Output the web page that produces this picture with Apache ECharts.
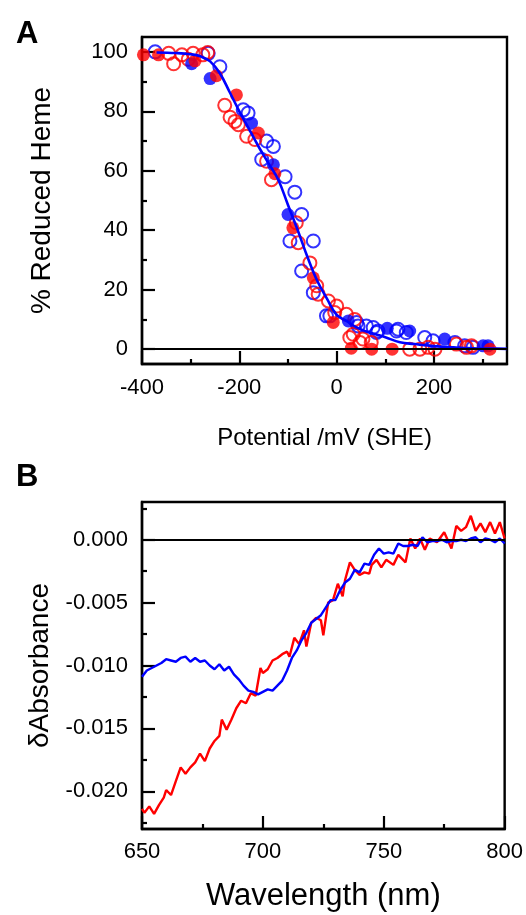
<!DOCTYPE html>
<html>
<head>
<meta charset="utf-8">
<script src="https://cdn.jsdelivr.net/npm/echarts@6/dist/echarts.min.js"></script>
<style>html,body{margin:0;padding:0;background:#fff;}#c{width:526px;height:915px;}</style>
</head>
<body>
<div id="c"></div>
<script>
// ---------- Panel A data (potential mV, % reduced heme) ----------
const redFilled = [[-397,99],[-366,99],[-291,97],[-247,92],[-206,85.5],[-161,72.7],[-127,59],[-90,40.8],[-48,24],[-7,9],[30,0.3],[72,0],[114,0],[315,0]];
const redOpen = [[-345,99.5],[-335,96],[-318,99],[-305,97.5],[-295,99.5],[-275,99],[-265,99.8],[-230,82],[-219,78],[-209,76.6],[-202,75.5],[-185,71.6],[-168,70.5],[-144,63.2],[-134,57],[-83,42.5],[-79,35.8],[-55,29],[-41,21.3],[-38,18.5],[-17,16.2],[0,14.5],[-4,12.3],[20,11.7],[37,10],[27,3.9],[34,5],[48,2.2],[54,3.4],[71,2.2],[150,0],[171,0],[188,0.6],[202,0],[246,1.7],[267,0.6],[277,1.1]];
const blueFilled = [[-298,96],[-260,91],[-175,76],[-130,62],[-100,45.3],[24,9.5],[104,7],[150,6.1],[222,3.4],[301,1.1],[311,1.1]];
const blueOpen = [[-373,100],[-264,99.5],[-240,95],[-192,80.5],[-182,79.4],[-144,70],[-130,68.2],[-154,63.8],[-106,58],[-86,52.8],[-72,45.3],[-96,36.4],[-48,36.4],[-72,26.3],[-48,19],[-21,11.2],[-14,11.2],[41,9],[44,7.8],[61,7.8],[75,7.3],[82,5.6],[85,6.1],[123,6.1],[126,6.7],[143,5.6],[181,3.9],[198,2.8],[243,2.2],[263,1.1],[280,0.6]];
const fitX = [-370,-330,-300,-280,-260,-240,-220,-200,-180,-160,-140,-120,-100,-80,-60,-40,-20,0,20,40,60,80,100,130,160,200,240,280,320,350];
const fitY = [99.8,99.6,99.2,98.5,96.8,92.8,86.5,80,74,68,62.5,57,48.5,40,31,23,17,11.5,9.5,7.4,6,5,4,2.3,1.7,1,0.6,0.3,0.2,0.1];
const aXTicks = [-400,-200,0,200];
const aXMinor = [-300,-100,100,300];
const aYTicks = [0,20,40,60,80,100];
const aYMinor = [10,30,50,70,90];

// ---------- Panel B data (wavelength nm, dAbsorbance) ----------
const blueWl = [650,652,654,656,658,660,662,664,666,668,670,672,674,676,678,680,682,684,686,688,690,692,694,696,698,700,702,704,706,708,710,712,714,716,718,720,722,724,726,728,730,732,734,736,738,740,742,744,746,748,750,752,754,756,758,760,762,764,766,768,770,772,774,776,778,780,782,784,786,788,790,792,794,796,798,800];
const blueAbs = [-0.0109,-0.0104,-0.0102,-0.0100,-0.0098,-0.0095,-0.0096,-0.0097,-0.0094,-0.0093,-0.0097,-0.0094,-0.0097,-0.0096,-0.0100,-0.0103,-0.0099,-0.0104,-0.0101,-0.0107,-0.0111,-0.0116,-0.0120,-0.0121,-0.0123,-0.0121,-0.0119,-0.0120,-0.0116,-0.0112,-0.0104,-0.0094,-0.0088,-0.0080,-0.0074,-0.0066,-0.0063,-0.0060,-0.0054,-0.0048,-0.0048,-0.0040,-0.0034,-0.0031,-0.0024,-0.0026,-0.0019,-0.0020,-0.0012,-0.0007,-0.0011,-0.0010,-0.0011,-0.0003,-0.0005,-0.0005,-0.0004,-0.0005,0.0002,-0.0002,-0.0001,-0.0001,0.0000,-0.0002,-0.0001,-0.0001,0.0000,-0.0001,0.0001,0.0002,-0.0002,0.0001,0.0000,-0.0002,0.0001,-0.0003];
const redWl = [650,651,653,655,657,659,660,662,664,666,668,670,672,674,676,678,680,682,683,685,687,689,691,693,695,697,699,700,702,704,706,708,710,711,713,715,717,718,720,722,724,725,727,729,731,733,734,736,738,740,742,744,745,747,749,751,754,756,759,761,763,765,767,769,772,775,778,780,782,784,786,788,790,792,794,796,798,800];
const redAbs = [-0.0214,-0.0217,-0.0212,-0.0218,-0.0211,-0.0205,-0.0199,-0.0203,-0.0192,-0.0181,-0.0186,-0.0181,-0.0177,-0.0170,-0.0176,-0.0166,-0.0160,-0.0156,-0.0143,-0.0151,-0.0143,-0.0134,-0.0128,-0.0130,-0.0122,-0.0124,-0.0102,-0.0106,-0.0103,-0.0096,-0.0094,-0.0091,-0.0089,-0.0093,-0.0078,-0.0083,-0.0072,-0.0085,-0.0066,-0.0062,-0.0064,-0.0076,-0.0050,-0.0048,-0.0035,-0.0045,-0.0032,-0.0018,-0.0024,-0.0028,-0.0026,-0.0027,-0.0020,-0.0016,-0.0022,-0.0016,-0.0020,-0.0012,-0.0018,0.0001,-0.0007,0.0001,-0.0008,0.0001,-0.0002,0.0006,-0.0007,0.0011,0.0007,0.0010,0.0019,0.0007,0.0013,0.0006,0.0014,0.0005,0.0014,0.0001];
const bXTicks = [650,700,750,800];
const bXMinor = [675,725,775];
const bYTicks = [0,-0.005,-0.010,-0.015,-0.020];
const bYMinor = [0.0025,-0.0025,-0.0075,-0.0125,-0.0175,-0.0225];

const zip = (a, b) => a.map((v, i) => [v, b[i]]);
const FONT = 'Liberation Sans, Arial, Helvetica, sans-serif';
const RED = '#ff0000', BLUE = '#0000ff';

function mainAxis(gridIndex, min, max, ticks, fmt, margin, extra) {
  return Object.assign({
    type: 'value', gridIndex, min, max,
    axisLine: { show: true, onZero: false, lineStyle: { color: '#000', width: 2.4 } },
    axisTick: { show: true, inside: true, length: 13, customValues: ticks, lineStyle: { color: '#000', width: 2.2 } },
    axisLabel: { show: true, customValues: ticks, formatter: fmt, color: '#000', fontFamily: FONT, fontSize: 22, margin },
    splitLine: { show: false }, minorTick: { show: false }
  }, extra || {});
}
function minorAxis(gridIndex, min, max, ticks, pos) {
  return {
    type: 'value', gridIndex, min, max, position: pos,
    axisLine: { show: false, onZero: false },
    axisTick: { show: true, inside: true, length: 5, customValues: ticks, lineStyle: { color: '#000', width: 2.2 } },
    axisLabel: { show: false }, splitLine: { show: false }
  };
}

const chart = echarts.init(document.getElementById('c'), null, { renderer: 'canvas' });
chart.setOption({
  animation: false,
  backgroundColor: '#fff',
  title: [
    { text: 'A', left: 11, top: 14, textStyle: { fontFamily: FONT, fontSize: 31, fontWeight: 'bold', color: '#000' } },
    { text: 'B', left: 11, top: 457, textStyle: { fontFamily: FONT, fontSize: 31, fontWeight: 'bold', color: '#000' } }
  ],
  grid: [
    { left: 142, top: 37, width: 365, height: 327, show: true, borderColor: '#000', borderWidth: 2.4, backgroundColor: 'transparent' },
    { left: 142, top: 502, width: 365, height: 327, show: true, borderColor: '#000', borderWidth: 2.4, backgroundColor: 'transparent' }
  ],
  xAxis: [
    mainAxis(0, -400, 350, aXTicks, v => String(v), 13, {
      name: 'Potential /mV (SHE)', nameLocation: 'middle', nameGap: 62,
      nameTextStyle: { fontFamily: FONT, fontSize: 24, color: '#000' }
    }),
    minorAxis(0, -400, 350, aXMinor, 'bottom'),
    mainAxis(1, 650, 800, bXTicks, v => String(v), 12, {
      name: 'Wavelength (nm)', nameLocation: 'middle', nameGap: 52,
      nameTextStyle: { fontFamily: FONT, fontSize: 31, color: '#000' }
    }),
    minorAxis(1, 650, 800, bXMinor, 'bottom')
  ],
  yAxis: [
    mainAxis(0, -5, 105, aYTicks, v => String(v), 14, {
      name: '% Reduced Heme', nameLocation: 'middle', nameGap: 86,
      nameTextStyle: { fontFamily: FONT, fontSize: 28, color: '#000' }
    }),
    minorAxis(0, -5, 105, aYMinor, 'left'),
    mainAxis(1, -0.023, 0.003, bYTicks, v => v.toFixed(3), 14, {
      name: 'δAbsorbance', nameLocation: 'middle', nameGap: 86,
      nameTextStyle: { fontFamily: FONT, fontSize: 28, color: '#000' }
    }),
    minorAxis(1, -0.023, 0.003, bYMinor, 'left')
  ],
  series: [
    { type: 'scatter', xAxisIndex: 0, yAxisIndex: 0, data: blueOpen, symbol: 'circle', symbolSize: 13,
      itemStyle: { color: 'rgba(255,255,255,0)', borderColor: BLUE, borderWidth: 2 }, z: 2,
      markLine: { silent: true, symbol: 'none', label: { show: false }, lineStyle: { color: '#000', width: 2.2, type: 'solid' }, data: [{ yAxis: 0 }], animation: false } },
    { type: 'scatter', xAxisIndex: 0, yAxisIndex: 0, data: redOpen, symbol: 'circle', symbolSize: 13,
      itemStyle: { color: 'rgba(255,255,255,0)', borderColor: RED, borderWidth: 2 }, z: 2 },
    { type: 'scatter', xAxisIndex: 0, yAxisIndex: 0, data: blueFilled, symbol: 'circle', symbolSize: 13,
      itemStyle: { color: BLUE }, z: 3 },
    { type: 'scatter', xAxisIndex: 0, yAxisIndex: 0, data: redFilled, symbol: 'circle', symbolSize: 13,
      itemStyle: { color: RED }, z: 3 },
    { type: 'line', xAxisIndex: 0, yAxisIndex: 0, data: zip(fitX, fitY), smooth: 0.4, showSymbol: false,
      lineStyle: { color: BLUE, width: 2.6 }, z: 4 },
    { type: 'line', xAxisIndex: 2, yAxisIndex: 2, data: zip(redWl, redAbs), showSymbol: false,
      lineStyle: { color: RED, width: 2.4 }, z: 3,
      markLine: { silent: true, symbol: 'none', label: { show: false }, lineStyle: { color: '#000', width: 2.2, type: 'solid' }, data: [{ yAxis: 0 }], animation: false } },
    { type: 'line', xAxisIndex: 2, yAxisIndex: 2, data: zip(blueWl, blueAbs), showSymbol: false,
      lineStyle: { color: BLUE, width: 2.4 }, z: 4 }
  ]
});
</script>
</body>
</html>
